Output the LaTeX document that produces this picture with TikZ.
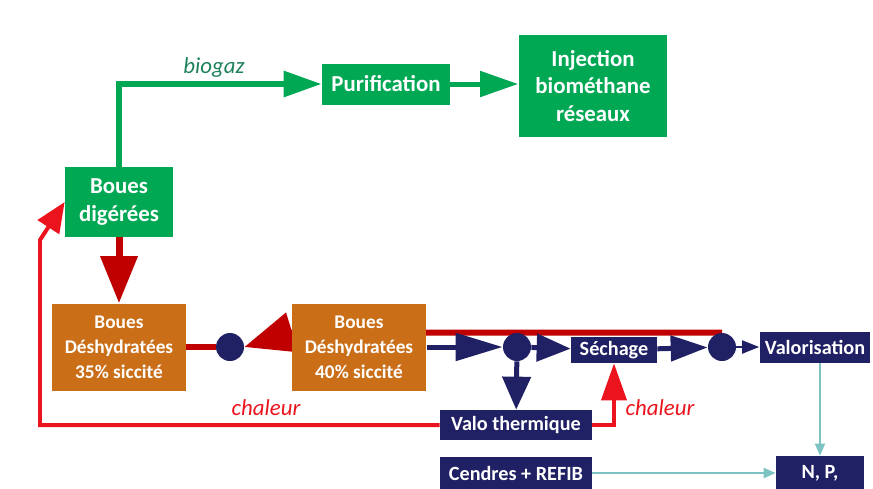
\documentclass[tikz,border=0pt]{standalone}
\usepackage{fontspec}
\setmainfont{Carlito}
\usetikzlibrary{arrows.meta,backgrounds}
\definecolor{vert}{RGB}{0,168,84}
\definecolor{orange}{RGB}{202,110,24}
\definecolor{marine}{RGB}{32,32,100}
\definecolor{rouge}{RGB}{192,0,0}
\definecolor{chaud}{RGB}{235,20,30}
\definecolor{turq}{RGB}{125,195,195}
\definecolor{gaz}{RGB}{30,130,90}
\tikzset{
  vbox/.style={fill=vert, text=white, align=center, inner sep=0pt,
    font=\bfseries\fontsize{13}{15.8}\selectfont},
  obox/.style={fill=orange, text=white, align=center, inner sep=0pt,
    font=\bfseries\fontsize{11}{14.2}\selectfont, minimum width=2.7cm, minimum height=1.74cm},
  nbox/.style={fill=marine, text=white, align=center, inner sep=0pt,
    font=\bfseries\fontsize{11.5}{14}\selectfont},
  noeud/.style={circle, fill=marine, minimum size=0.56cm, inner sep=0pt},
  lbl/.style={font=\itshape\fontsize{13}{15}\selectfont},
  biog/.style={draw=vert, line width=0.12cm, -{Triangle[length=0.76cm,width=0.5cm]}},
  flux/.style={draw=rouge, line width=0.12cm},
  chal/.style={draw=chaud, line width=0.08cm},
  boue/.style={draw=marine, line width=0.1cm, -{Triangle[length=0.94cm,width=0.54cm]}},
  cend/.style={draw=turq, line width=0.04cm, -{Triangle[length=0.24cm,width=0.2cm]}}
}

\begin{document}
\begin{tikzpicture}[x=0.02cm, y=-0.02cm]
\useasboundingbox (0,0) rectangle (873,488);

\node[vbox, minimum width=2.16cm, minimum height=1.4cm] (dig) at (119,202) {Boues\\dig\'er\'ees};
\node[vbox, minimum width=2.56cm, minimum height=0.82cm] (pur) at (386,84) {Purification};
\node[vbox, minimum width=2.98cm, minimum height=2.06cm] (inj) at (593,86) {Injection\\biom\'ethane\\r\'eseaux};
\node[obox, minimum width=2.68cm] (d35) at (119,347) {Boues\\D\'eshydrat\'ees\\35\% siccit\'e};
\node[obox] (d40) at (359,347) {Boues\\D\'eshydrat\'ees\\40\% siccit\'e};
\node[noeud] (c1) at (230,347) {};
\node[noeud] (c2) at (517,347) {};
\node[noeud] (c3) at (722,347) {};
\node[nbox, minimum width=1.72cm, minimum height=0.52cm] (sech) at (614,350) {S\'echage};
\node[nbox, minimum width=2.22cm, minimum height=0.62cm] (valo) at (815,347) {Valorisation};
\node[nbox, minimum width=3.04cm, minimum height=0.6cm] (vth) at (516,425) {Valo thermique};
\node[nbox, minimum width=3.04cm, minimum height=0.64cm] (cendr) at (516,473) {Cendres + REFIB};
\node[nbox, minimum width=1.76cm, minimum height=0.68cm] (np) at (820,473) {N, P,};
\node[lbl, text=gaz] (biogaz) at (214,68) {biogaz};
\node[lbl, text=chaud] (chal1) at (266,408) {chaleur};
\node[lbl, text=chaud] (chal2) at (660,408) {chaleur};
\coordinate (retour) at (40,240);

\begin{pgfonlayer}{background}
\draw[flux, -{Triangle[length=1cm,width=0.8cm]}] (c3.north) -- (c3.north -| d40.west) -- (c1.east);
\end{pgfonlayer}

\draw[biog] (dig.north) |- (pur.west);
\draw[biog, line width=0.1cm] (pur.east) -- (pur.east -| inj.west);
\draw[flux, line width=0.14cm, -{Triangle[length=0.94cm,width=0.72cm]}] (dig) -- (d35);
\draw[flux] (d35) -- (c1);
\draw[boue] (d40.east) -- (c2.west);
\draw[boue, -{Triangle[length=0.68cm,width=0.54cm]}] (c2) -- (sech);
\draw[boue, -{Triangle[length=0.74cm,width=0.5cm]}] (sech) -- (c3);
\draw[boue, line width=0.04cm, -{Triangle[length=0.34cm,width=0.26cm]}] (c3) -- (valo);
\draw[boue, -{Triangle[length=0.66cm,width=0.56cm]}] (c2) -- (vth);
\draw[chal, -{Triangle[length=0.6cm,width=0.5cm]}] (vth.west) -| (retour) -- (dig.west);
\draw[chal, -{Triangle[length=0.74cm,width=0.5cm]}] (vth.east) -| (sech.south);
\draw[cend] (np.north |- valo.south) -- (np.north);
\draw[cend] (cendr) -- (np);
\end{tikzpicture}
\end{document}
